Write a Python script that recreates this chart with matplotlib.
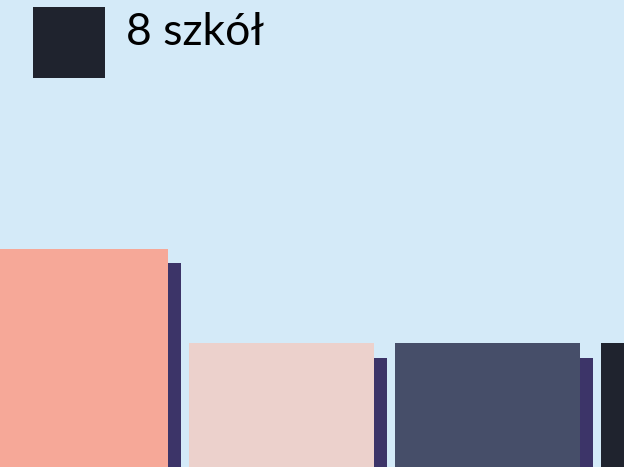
import matplotlib.pyplot as plt
from matplotlib.patches import Rectangle

# values (percent of visible height)
categories = ['5 szkół', '6 szkół', '7 szkół', '8 szkół']
front_values = [46.7, 26.6, 26.6, 26.6]
back_values = [43.7, 23.3, 23.3, 23.3]
front_colors = ['#f6a898', '#ecd1cc', '#464e69', '#1f232e']
back_color = '#3c3468'
legend_label = '8 szkół'

BG = '#d4eaf8'
W, H = 624, 467

plt.rcParams['font.family'] = ['Lato', 'DejaVu Sans']

fig = plt.figure(figsize=(W / 100, H / 100), dpi=100)
fig.patch.set_facecolor(BG)
ax = fig.add_axes([0, 0, 1, 1])
ax.set_facecolor(BG)

x = list(range(len(categories)))
width = 185 / 206
shift = 13 / 206

ax.bar([i + shift for i in x[:3]], back_values[:3], width=width,
       color=back_color, zorder=1)
ax.bar(x, front_values, width=width, color=front_colors, zorder=2)

ax.set_xlim(-75.5 / 206, (W - 75.5) / 206)
ax.set_ylim(0, 100)
ax.axis('off')

# legend entry: swatch + label, placed by hand
ax.add_patch(Rectangle((33 / W, 1 - 78 / H), 72 / W, 71 / H,
                       transform=ax.transAxes, facecolor=front_colors[3],
                       edgecolor='none', zorder=3))
ax.text(126 / W, 1 - 45 / H, legend_label, transform=ax.transAxes,
        fontsize=32, va='baseline', ha='left', color='black', zorder=3)

plt.savefig('out.png', dpi=100, facecolor=BG)
plt.close()
